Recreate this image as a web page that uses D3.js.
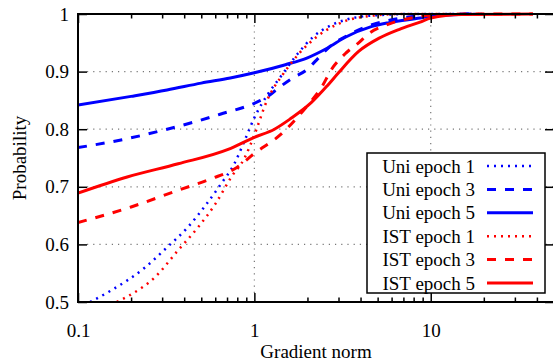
<!DOCTYPE html>
<html>
<head>
<meta charset="utf-8">
<script src="https://cdn.jsdelivr.net/npm/d3@7"></script>
<style>
  body { margin: 0; background: #fff; }
  text { font-family: "Liberation Serif", "Times New Roman", serif; font-size: 19px; fill: #000; }
</style>
</head>
<body>
<script>
// values: [gradient norm, probability]
var uniEpoch1 = [[0.117,0.5],[0.154,0.52],[0.24,0.56],[0.32,0.595],[0.42,0.63],[0.52,0.665],[0.65,0.706],[0.77,0.74],[0.88,0.78],[1.0,0.82],[1.2,0.862],[1.4,0.89],[1.75,0.93],[2.15,0.96],[2.7,0.98],[3.3,0.99],[5,0.998],[8,1],[20,1]];
var uniEpoch3 = [[0.1,0.768],[0.2,0.785],[0.32,0.8],[0.45,0.812],[0.64,0.826],[1.0,0.845],[1.18,0.856],[1.39,0.873],[1.65,0.889],[1.98,0.903],[2.25,0.92],[2.67,0.943],[3.6,0.967],[4.6,0.981],[6,0.99],[10,0.998],[17,1]];
var uniEpoch5 = [[0.1,0.842],[0.2,0.857],[0.32,0.868],[0.5,0.88],[0.73,0.889],[1.0,0.898],[1.5,0.912],[2.0,0.924],[2.6,0.941],[3.3,0.96],[4.6,0.978],[5.8,0.985],[8.7,0.993],[10,0.996],[17,1]];
var istEpoch1 = [[0.166,0.5],[0.192,0.51],[0.273,0.543],[0.37,0.59],[0.48,0.63],[0.6,0.67],[0.74,0.717],[0.88,0.75],[1.0,0.79],[1.18,0.85],[1.45,0.895],[1.8,0.932],[2.25,0.96],[2.9,0.981],[4.1,0.995],[7,1],[20,1]];
var istEpoch3 = [[0.1,0.638],[0.2,0.665],[0.37,0.694],[0.57,0.714],[0.8,0.734],[1.0,0.758],[1.4,0.79],[2.05,0.845],[2.35,0.868],[2.8,0.908],[3.3,0.932],[3.9,0.95],[4.5,0.967],[5.5,0.98],[8,0.994],[10,0.998],[20,1],[38,1]];
var istEpoch5 = [[0.1,0.689],[0.19,0.717],[0.37,0.74],[0.71,0.765],[1.0,0.786],[1.3,0.8],[1.6,0.818],[2.1,0.846],[2.6,0.876],[3.0,0.898],[3.9,0.935],[5.1,0.958],[6.6,0.973],[8.7,0.986],[10,0.993],[15,0.999],[38,1]];

var seriesNames = ["Uni epoch 1", "Uni epoch 3", "Uni epoch 5", "IST epoch 1", "IST epoch 3", "IST epoch 5"];
var seriesData = [uniEpoch1, uniEpoch3, uniEpoch5, istEpoch1, istEpoch3, istEpoch5];
var seriesColors = ["#0000ff", "#0000ff", "#0000ff", "#ff0000", "#ff0000", "#ff0000"];
var seriesDash = ["2,5", "9,9", null, "2,5", "9,9", null];
var seriesWidth = [2.5, 3, 3, 2.5, 3, 3];

var xTicks = [0.1, 1, 10];
var xMinor = [0.2,0.3,0.4,0.5,0.6,0.7,0.8,0.9,2,3,4,5,6,7,8,9,20,30,40];
var yTicks = [0.5, 0.6, 0.7, 0.8, 0.9, 1];

var width = 553,
    height = 362,
    plotLeft = 78,
    plotRight = 554,
    plotTop = 14,
    plotBottom = 302;

var x = d3.scaleLog().domain([0.1, 50]).range([plotLeft, plotRight]),
    y = d3.scaleLinear().domain([0.5, 1]).range([plotBottom, plotTop]);

var svg = d3.select("body").append("svg")
    .attr("width", width)
    .attr("height", height);

svg.append("defs").append("clipPath").attr("id", "plot")
    .append("rect")
    .attr("x", plotLeft).attr("y", plotTop - 2)
    .attr("width", plotRight - plotLeft).attr("height", plotBottom - plotTop + 2);

// grid
var grid = svg.append("g").attr("stroke", "#777").attr("stroke-width", 1.2).attr("stroke-dasharray", "1.2,5");
grid.selectAll(".gy").data(yTicks.filter(function(d) { return d > 0.5 && d < 1; }))
    .enter().append("line")
    .attr("x1", plotLeft + 9).attr("x2", plotRight)
    .attr("y1", function(d) { return y(d); }).attr("y2", function(d) { return y(d); });
grid.selectAll(".gx").data([1, 10])
    .enter().append("line")
    .attr("x1", function(d) { return x(d); }).attr("x2", function(d) { return x(d); })
    .attr("y1", plotBottom - 9).attr("y2", plotTop + 9);

// curves
var line = d3.line()
    .x(function(d) { return x(d[0]); })
    .y(function(d) { return y(d[1]); })
    .curve(d3.curveMonotoneX);

svg.append("g").attr("clip-path", "url(#plot)")
    .selectAll("path")
    .data(seriesData)
    .enter().append("path")
    .attr("d", line)
    .attr("fill", "none")
    .attr("stroke", function(d, i) { return seriesColors[i]; })
    .attr("stroke-width", function(d, i) { return seriesWidth[i]; })
    .attr("stroke-dasharray", function(d, i) { return seriesDash[i]; });

// axes (gnuplot style, ticks inward and mirrored)
svg.append("g")
    .attr("transform", "translate(0," + plotBottom + ")")
    .call(d3.axisBottom(x).tickValues(xTicks).tickSizeInner(-9).tickSizeOuter(0).tickPadding(22).tickFormat(d3.format("")));
svg.append("g")
    .attr("transform", "translate(0," + plotBottom + ")")
    .call(d3.axisBottom(x).tickValues(xMinor).tickSizeInner(-4.5).tickSizeOuter(0).tickFormat(""));
svg.append("g")
    .attr("transform", "translate(0," + plotTop + ")")
    .call(d3.axisTop(x).tickValues(xTicks).tickSizeInner(-9).tickSizeOuter(0).tickFormat(""));
svg.append("g")
    .attr("transform", "translate(0," + plotTop + ")")
    .call(d3.axisTop(x).tickValues(xMinor).tickSizeInner(-4.5).tickSizeOuter(0).tickFormat(""));
svg.append("g")
    .attr("transform", "translate(" + plotLeft + ",0)")
    .call(d3.axisLeft(y).tickValues(yTicks).tickSizeInner(-9).tickSizeOuter(0).tickPadding(9).tickFormat(d3.format("")));
svg.append("g")
    .attr("transform", "translate(" + plotRight + ",0)")
    .call(d3.axisRight(y).tickValues(yTicks).tickSizeInner(-9).tickSizeOuter(0).tickFormat(""));

svg.selectAll(".domain").remove();
svg.selectAll(".tick line").attr("stroke", "#000").attr("stroke-width", 1.5);
svg.selectAll(".tick text").attr("font-family", null).attr("font-size", null).style("font-size", "19px");

svg.append("rect")
    .attr("x", plotLeft).attr("y", plotTop)
    .attr("width", plotRight - plotLeft).attr("height", plotBottom - plotTop)
    .attr("fill", "none").attr("stroke", "#000").attr("stroke-width", 2);

// axis titles
svg.append("text")
    .attr("x", (plotLeft + plotRight) / 2).attr("y", 358)
    .attr("text-anchor", "middle")
    .text("Gradient norm");
svg.append("text")
    .attr("transform", "translate(26," + (plotTop + plotBottom) / 2 + ") rotate(-90)")
    .attr("text-anchor", "middle")
    .text("Probability");

// legend
var legend = svg.append("g");
legend.append("rect")
    .attr("x", 367).attr("y", 153)
    .attr("width", 178).attr("height", 140)
    .attr("fill", "#fff").attr("stroke", "#000").attr("stroke-width", 1.5);
var rows = legend.selectAll(".row").data(seriesNames).enter().append("g")
    .attr("transform", function(d, i) { return "translate(0," + (166 + i * 23.4) + ")"; });
rows.append("text")
    .attr("x", 475).attr("dy", "0.35em")
    .attr("text-anchor", "end")
    .text(function(d) { return d; });
rows.append("line")
    .attr("x1", 487).attr("x2", 533)
    .attr("stroke", function(d, i) { return seriesColors[i]; })
    .attr("stroke-width", function(d, i) { return seriesWidth[i]; })
    .attr("stroke-dasharray", function(d, i) { return seriesDash[i]; });
</script>
</body>
</html>
